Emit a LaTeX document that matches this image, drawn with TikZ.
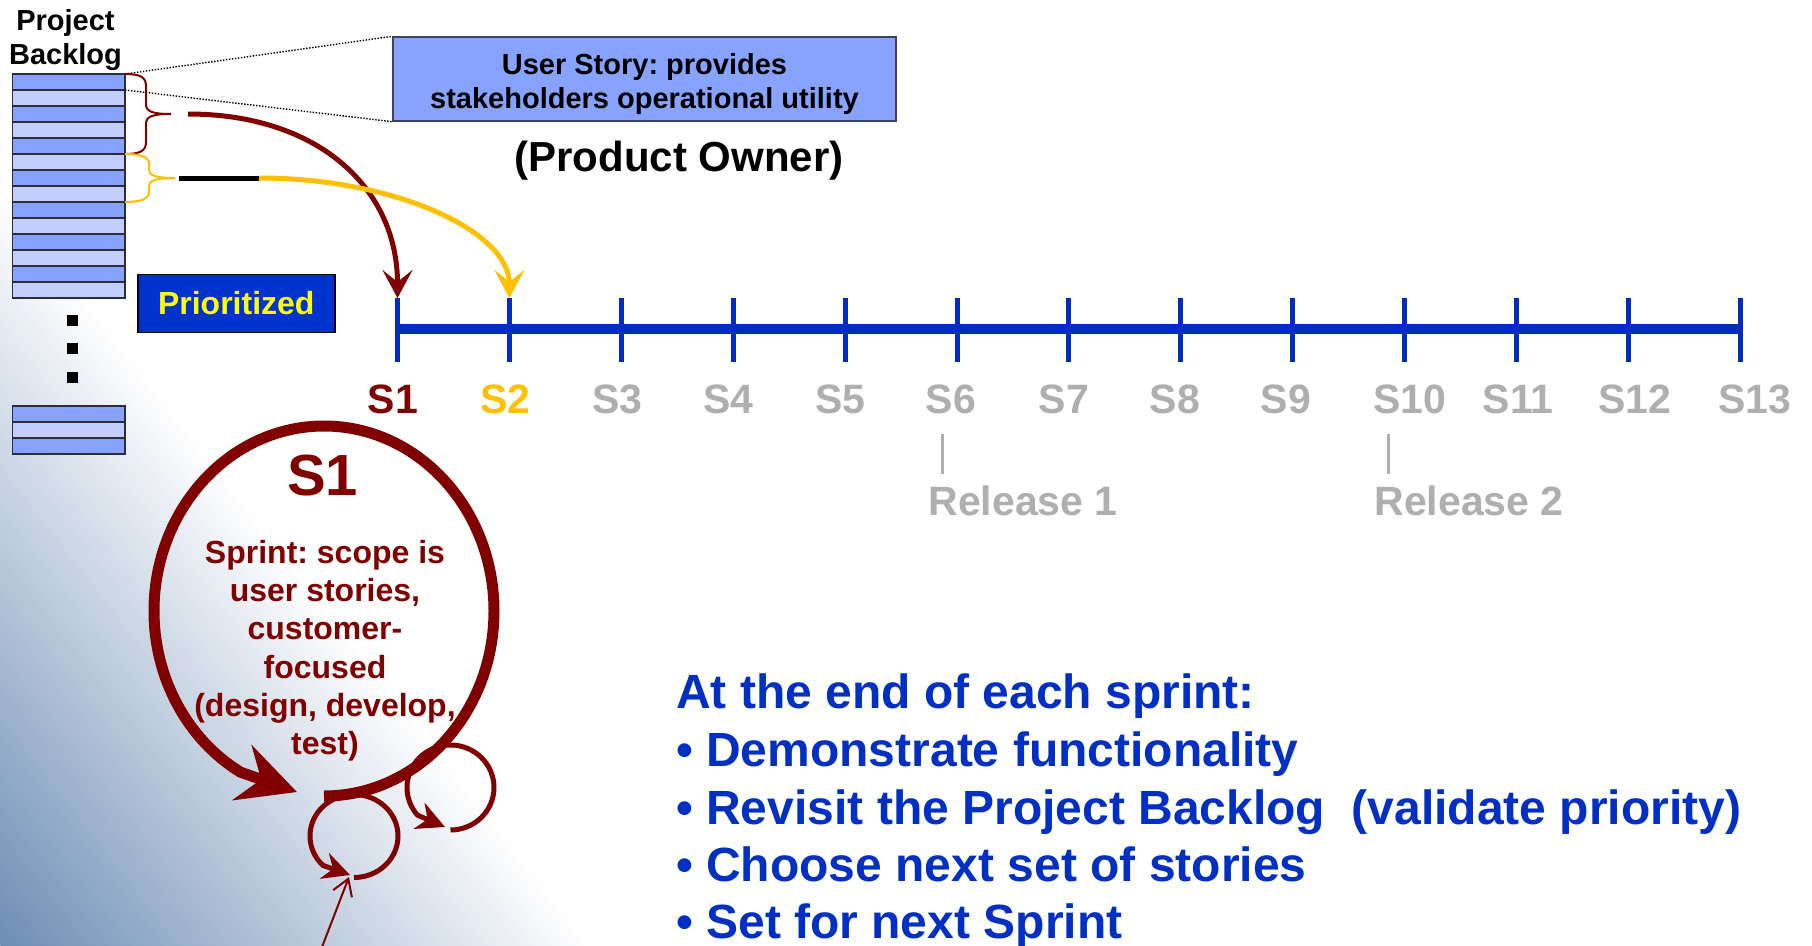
\documentclass[tikz,border=0pt]{standalone}
\usepackage{fontspec}
\setmainfont{Liberation Sans}
\usetikzlibrary{arrows.meta}
\definecolor{bgblue}{RGB}{110,142,181}
\definecolor{rowdark}{RGB}{135,163,255}
\definecolor{rowlight}{RGB}{193,206,255}
\definecolor{rowline}{RGB}{45,45,55}
\definecolor{boxline}{RGB}{60,66,100}
\definecolor{tlblue}{RGB}{0,45,190}
\definecolor{prioblue}{RGB}{0,51,204}
\definecolor{txtblue}{RGB}{0,48,195}
\definecolor{dred}{RGB}{128,0,0}
\definecolor{gold}{RGB}{255,192,0}
\definecolor{lgray}{RGB}{175,175,175}
\definecolor{prioyellow}{RGB}{255,255,0}
\newcommand\myfs[1]{\fontsize{#1}{#1}\selectfont\bfseries}
\frenchspacing
\begin{document}
\begin{tikzpicture}[x=1pt,y=-1pt,
  lbl/.style={inner sep=0pt, anchor=base},
  rowd/.style={fill=rowdark, draw=rowline, line width=1.2pt},
  rowl/.style={fill=rowlight, draw=rowline, line width=1.2pt},
  dotline/.style={line width=1.4pt, dash pattern=on 1.4pt off 1.6pt},
  tickline/.style={draw=tlblue, line width=5pt},
  slabel/.style={lbl, font=\myfs{41}},
  endtext/.style={inner sep=0pt, anchor=base west, font=\myfs{48}, text=txtblue},
  sprinttext/.style={lbl, font=\myfs{32}, text=dred},
  loopstyle/.style={draw=dred, line width=5pt},
  bracestyle/.style={line width=2pt},
  curvetip/.style={-{Stealth[length=28pt,width=30pt,inset=12pt]}},
  usboxstyle/.style={fill=rowdark, draw=boxline, line width=1.4pt, minimum width=503pt, minimum height=84pt, inner sep=0pt},
  priostyle/.style={fill=prioblue, draw=black, line width=1.6pt, minimum width=197pt, minimum height=58pt, inner sep=0pt, text=prioyellow, font=\myfs{32}}
]
% background gradient
\fill[white] (0,0) rectangle (1812,945);
\begin{scope}
  \clip (0,0) rectangle (1812,945);
  \begin{scope}[shift={(0,945)}, rotate=38]
    \foreach \i in {0,...,92} {
      \pgfmathsetmacro\p{100-100*\i/93}
      \fill[bgblue!\p!white] ({5*\i},-1500) rectangle ({5*\i+5.6},1500);
    }
  \end{scope}
\end{scope}
\useasboundingbox (0,0) rectangle (1812,945);

% Project backlog title
\node[lbl, font=\myfs{29}] (pb1) at (65.5,30.5) {Project};
\node[lbl, font=\myfs{29}] (pb2) at (65.5,64.5) {Backlog};

% backlog stack
\foreach \i in {0,2,...,12} \filldraw[rowd] (12.7,{74+16*\i}) rectangle (125,{90+16*\i});
\foreach \i in {1,3,...,13} \filldraw[rowl] (12.7,{74+16*\i}) rectangle (125,{90+16*\i});
\draw[rowline, line width=1.5pt] (12.7,74) rectangle (125,298);
% dots
\fill[black] (66.5,315) rectangle (77.5,326);
\fill[black] (66.5,343) rectangle (77.5,354);
\fill[black] (66.5,372) rectangle (77.5,383);
% bottom stack
\filldraw[rowd] (12.7,406) rectangle (125,422);
\filldraw[rowl] (12.7,422) rectangle (125,438);
\filldraw[rowd] (12.7,438) rectangle (125,454);
\draw[rowline, line width=1.5pt] (12.7,406) rectangle (125,454);

% user story box
\node[usboxstyle] (us) at (644.5,79) {};
\node[lbl, font=\myfs{29}] (us1) at (644.5,74) {User Story: provides};
\node[lbl, font=\myfs{29}] (us2) at (644.5,108) {stakeholders operational utility};
\coordinate (bk1) at (125,74);
\coordinate (bk2) at (125,90);
\draw[dotline] (bk1) -- (us.north west);
\draw[dotline] (bk2) -- (us.south west);
\node[lbl, font=\myfs{42}] (po) at (679,171.5) {(Product Owner)};

% prioritized
\node[priostyle] (prio) at (236.25,303.5) {Prioritized};

% braces
\draw[dred, bracestyle] (125,74) .. controls (140,74) and (146,77) .. (146,86) -- (146,104)
  .. controls (146,111) and (151,114) .. (171,114) .. controls (151,114) and (146,117) .. (146,124)
  -- (146,142) .. controls (146,151) and (140,154) .. (125,154);
\draw[gold, bracestyle] (125,154) .. controls (141,154) and (149,157) .. (149,164) -- (149,170)
  .. controls (149,175) and (155,178) .. (175,178) .. controls (155,178) and (149,181) .. (149,186)
  -- (149,192) .. controls (149,199) and (141,202) .. (125,202);

% timeline
\coordinate (tlL) at (397.5,329);
\coordinate (tlR) at (1740.3,329);
\draw[tlblue, line width=10pt] (tlL) -- (tlR);
\foreach \k in {1,...,13} {
  \pgfmathsetmacro\xx{397.5+111.9*(\k-1)}
  \coordinate (t\k) at (\xx,298);
  \coordinate (b\k) at (\xx,362);
  \draw[tickline] (t\k) -- (b\k);
}
\foreach \k/\x/\c in {1/393/dred, 2/505.5/gold, 3/617.5/lgray, 4/728.5/lgray, 5/840.5/lgray,
  6/951/lgray, 7/1064/lgray, 8/1175/lgray, 9/1286/lgray, 10/1410/lgray, 11/1518/lgray,
  12/1635/lgray, 13/1755/lgray}
  \node[slabel, text=\c] (s\k) at (\x,413.5) {S\k};

% releases
\coordinate (r1a) at (942.5,434); \coordinate (r1b) at (942.5,474);
\coordinate (r2a) at (1388.7,434); \coordinate (r2b) at (1388.7,474);
\draw[lgray, line width=3.5pt] (r1a) -- (r1b);
\draw[lgray, line width=3.5pt] (r2a) -- (r2b);
\node[lbl, font=\myfs{41}, text=lgray] (rel1) at (1023,515) {Release 1};
\node[lbl, font=\myfs{41}, text=lgray] (rel2) at (1469,515) {Release 2};

% arrows from backlog to sprints
\coordinate (rstart) at (188,114);
\draw[dred, line width=5pt, curvetip] (rstart) .. controls +(130,0) and +(0,-110) .. (t1);
\coordinate (ystart) at (179,178);
\coordinate (ybend) at (259,178);
\draw[black, line width=5pt] (ystart) -- (ybend);
\draw[gold, line width=5pt, curvetip] (ybend) .. controls +(137.5,0) and +(0,-66) .. (t2);

% sprint circle
\coordinate (bcs) at (324,796);
\coordinate (bct) at (297,792);
\draw[dred, line width=11pt, -{Stealth[length=58pt,width=58pt,inset=20pt]}] (bcs)
  arc[start angle=90, end angle=-240.6, x radius=170, y radius=185] -- (bct);
\node[lbl, font=\myfs{58}, text=dred] (s1big) at (322.5,495) {S1};
\node[sprinttext] (sp1) at (325,563.5) {Sprint: scope is};
\node[sprinttext] (sp2) at (325,601.7) {user stories,};
\node[sprinttext] (sp3) at (325,639.9) {customer-};
\node[sprinttext] (sp4) at (325,678.1) {focused};
\node[sprinttext] (sp5) at (325,716.3) {(design, develop,};
\node[sprinttext] (sp6) at (325,754.5) {test)};

% small loops
\coordinate (l1s) at (354,877.5);
\coordinate (l1t) at (350,875);
\draw[loopstyle, -{Stealth[length=27pt,width=27pt,inset=9pt]}] (l1s)
  arc[start angle=90, end angle=-225, x radius=44, y radius=41.5] -- (l1t);
\coordinate (l2s) at (450.5,830);
\coordinate (l2t) at (445,827);
\draw[loopstyle, -{Stealth[length=28pt,width=28pt,inset=9pt]}] (l2s)
  arc[start angle=90, end angle=-220.6, x radius=43.5, y radius=42.5] -- (l2t);
\coordinate (inS) at (322,947);
\coordinate (inT) at (349,877);
\draw[dred, line width=2pt, -{Straight Barb[length=16pt,width=20pt]}] (inS) -- (inT);

% end of sprint text
\node[endtext] (e1) at (676,708) {At the end of each sprint:};
\node[endtext] (e2) at (676,766) {• Demonstrate functionality};
\node[endtext] (e3) at (676,824) {• Revisit the Project Backlog\ \ (validate priority)};
\node[endtext] (e4) at (676,881) {• Choose next set of stories};
\node[endtext] (e5) at (676,938) {• Set for next Sprint};
\end{tikzpicture}
\end{document}
